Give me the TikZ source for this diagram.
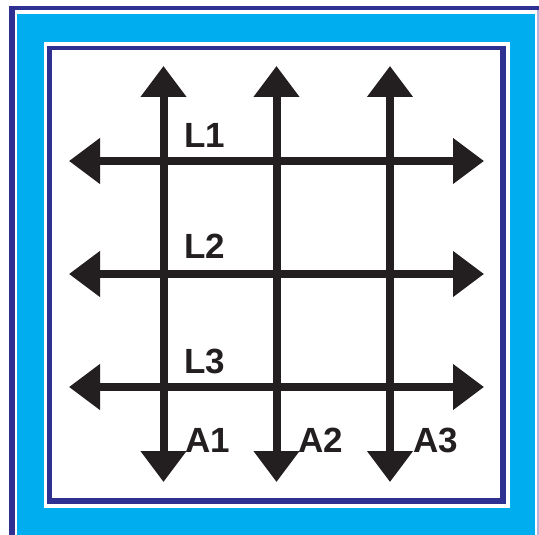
\documentclass[tikz,border=0pt]{standalone}
\usepackage{fontspec}
\setmainfont{Liberation Sans}
\usetikzlibrary{arrows.meta}
\definecolor{frameblue}{HTML}{2E3192}
\definecolor{framecyan}{HTML}{00AEEF}
\definecolor{ink}{HTML}{231F20}
\definecolor{edgelav}{HTML}{B4B2D8}
\begin{document}
\begin{tikzpicture}[x=1pt,y=-1pt,
 dbl/.style={line width=8pt, draw=ink, {Triangle[length=31pt,width=44pt]}-{Triangle[length=31pt,width=44pt]}},
 lbl/.style={font=\bfseries\fontsize{35}{35}\selectfont, text=ink, inner sep=0pt, anchor=base west}]
\useasboundingbox (0,0) rectangle (539,535);
\begin{scope}
\clip (0,0) rectangle (539,535);
\fill[white] (0,0) rectangle (539,535);
\fill[frameblue] (9,6) rectangle (560,560);
\fill[white] (15,10) rectangle (537,560);
\fill[edgelav] (537,10) rectangle (539,560);
\fill[framecyan] (17,14) rectangle (535,560);
\fill[white] (44,42) rectangle (510,508);
\fill[frameblue] (47,46) rectangle (506,504);
\fill[white] (52,50) rectangle (500,498);
\end{scope}
% end points
\coordinate (v1t) at (163.5,66);  \coordinate (v1b) at (163.5,482);
\coordinate (v2t) at (276.5,66);  \coordinate (v2b) at (276.5,482);
\coordinate (v3t) at (390,66);    \coordinate (v3b) at (390,482);
\coordinate (h1l) at (69,161);    \coordinate (h1r) at (484,161);
\coordinate (h2l) at (69,274);    \coordinate (h2r) at (484,274);
\coordinate (h3l) at (69,387);    \coordinate (h3r) at (484,387);
\draw[dbl] (h1l) -- (h1r);
\draw[dbl] (h2l) -- (h2r);
\draw[dbl] (h3l) -- (h3r);
\draw[dbl] (v1b) -- (v1t);
\draw[dbl] (v2b) -- (v2t);
\draw[dbl] (v3b) -- (v3t);
\node[lbl] (L1) at (184,147) {L1};
\node[lbl] (L2) at (184,258) {L2};
\node[lbl] (L3) at (184,373) {L3};
\node[lbl] (A1) at (185,452) {A1};
\node[lbl] (A2) at (298,452) {A2};
\node[lbl] (A3) at (413,452) {A3};
\end{tikzpicture}
\end{document}
